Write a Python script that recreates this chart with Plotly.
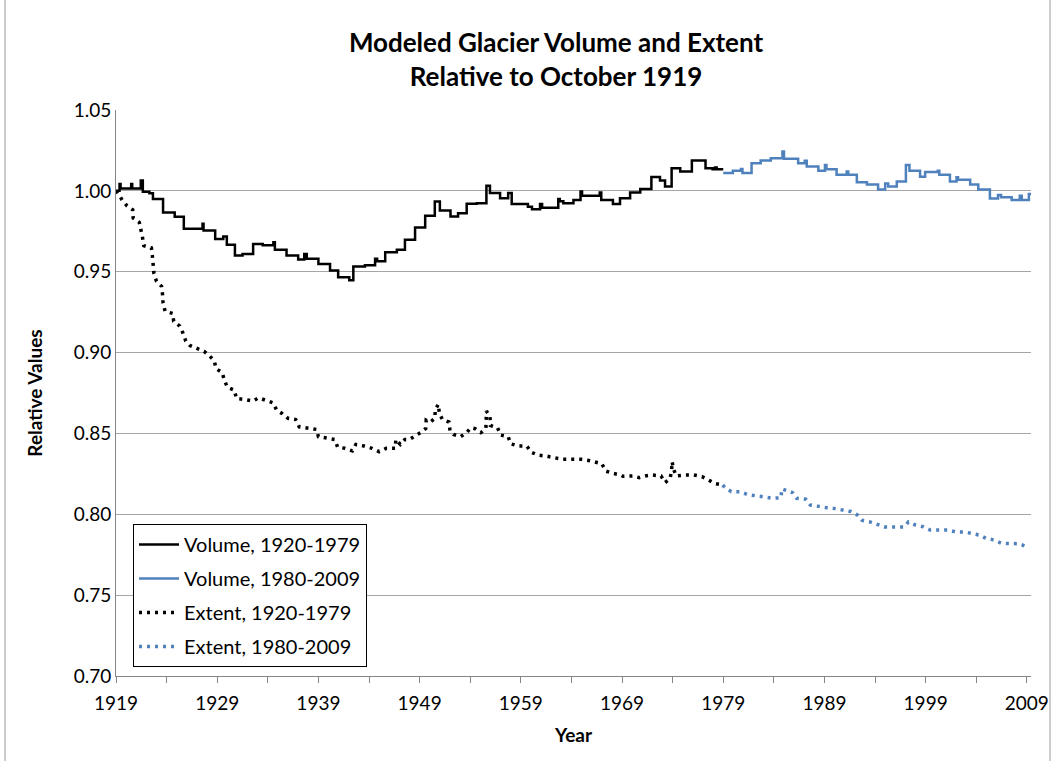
import plotly.graph_objects as go

# ---- Data ----
vol_early_year = [1919.0, 1919.35, 1919.45, 1920.5, 1920.6, 1921.45, 1921.65, 1922.3, 1922.65, 1923.65,
                  1924.8, 1925.7, 1927.55, 1927.65, 1928.8, 1929.6, 1929.95, 1930.75, 1931.5, 1932.55,
                  1933.5, 1934.55, 1934.7, 1935.85, 1937.0, 1937.6, 1937.85, 1939.0, 1940.15, 1940.95,
                  1942.05, 1942.45, 1943.6, 1944.6, 1944.8, 1945.6, 1946.75, 1947.55, 1948.55, 1949.55,
                  1950.5, 1951.0, 1952.05, 1952.8, 1953.65, 1954.65, 1955.6, 1955.95, 1956.95, 1957.75,
                  1958.1, 1959.7, 1960.1, 1960.9, 1961.1, 1962.7, 1962.85, 1963.2, 1964.2, 1964.9,
                  1965.05, 1966.8, 1966.95, 1968.1, 1968.8, 1969.8, 1970.8, 1971.9, 1972.75, 1973.25,
                  1973.9, 1974.75, 1975.9, 1977.25, 1977.95, 1978.2, 1978.35, 1979.0]
vol_early_value = [1.000, 1.0043, 1.0015, 1.0043, 1.0015, 1.0064, 0.9995, 0.9985, 0.9949, 0.9866,
                   0.984, 0.9765, 0.9796, 0.9755, 0.9702, 0.9718, 0.9667, 0.960, 0.961, 0.9671,
                   0.9663, 0.9682, 0.9636, 0.960, 0.9575, 0.961, 0.958, 0.9548, 0.9508, 0.9466,
                   0.9447, 0.9533, 0.954, 0.958, 0.9564, 0.962, 0.9636, 0.9698, 0.9773, 0.9846,
                   0.9934, 0.9878, 0.9841, 0.9862, 0.992, 0.9924, 1.0031, 0.9986, 0.9955, 0.9986,
                   0.9918, 0.9901, 0.9887, 0.9918, 0.9895, 0.9949, 0.9935, 0.9924, 0.9944, 0.9996,
                   0.9969, 0.999, 0.9944, 0.9918, 0.9955, 0.999, 1.0011, 1.0085, 1.0064, 1.0027,
                   1.014, 1.0119, 1.0187, 1.014, 1.0134, 1.0145, 1.0134, 1.0134]

vol_late_year = [1979.0, 1979.95, 1980.75, 1980.9, 1981.8, 1982.7, 1983.7, 1984.85, 1985.0, 1986.4,
                 1987.05, 1987.25, 1988.4, 1989.05, 1989.2, 1990.2, 1991.2, 1991.35, 1992.2, 1993.2,
                 1994.3, 1995.0, 1995.3, 1996.15, 1997.05, 1997.4, 1998.45, 1998.95, 2000.2, 2000.35,
                 2001.4, 2002.05, 2002.2, 2003.4, 2004.2, 2005.35, 2006.15, 2006.45, 2007.5, 2008.3,
                 2008.5, 2009.2, 2009.45]
vol_late_value = [1.011, 1.0125, 1.0135, 1.011, 1.0171, 1.0187, 1.0202, 1.0243, 1.0198, 1.0171,
                  1.0186, 1.015, 1.0125, 1.016, 1.0133, 1.0099, 1.012, 1.0099, 1.0053, 1.0039,
                  1.0008, 1.0045, 1.0027, 1.0058, 1.016, 1.0125, 1.0088, 1.0117, 1.0125, 1.0099,
                  1.0058, 1.0084, 1.0068, 1.0039, 1.0008, 0.9952, 0.9975, 0.996, 0.9944, 0.997,
                  0.9944, 0.9981, 0.9975]

ext_early_year = [1919.0, 1919.2, 1919.6, 1920.1, 1920.65, 1920.7, 1921.3, 1921.45, 1921.6, 1921.75,
                  1922.5, 1922.6, 1922.7, 1922.75, 1923.0, 1923.5, 1923.6, 1923.65, 1923.85, 1924.6,
                  1924.7, 1925.3, 1925.6, 1925.9, 1926.3, 1927.0, 1927.7, 1928.2, 1928.7, 1928.9,
                  1929.5, 1929.7, 1930.0, 1930.7, 1930.9, 1931.75, 1932.5, 1933.1, 1933.8, 1934.5,
                  1934.9, 1935.4, 1936.0, 1936.75, 1937.1, 1937.9, 1938.8, 1939.0, 1939.8, 1940.6,
                  1940.9, 1941.6, 1942.35, 1942.7, 1943.5, 1944.3, 1945.0, 1945.7, 1946.6, 1946.65,
                  1947.1, 1947.55, 1948.0, 1948.55, 1949.1, 1949.6, 1949.65, 1950.05, 1950.5, 1950.55,
                  1950.85, 1950.95, 1951.25, 1951.9, 1952.0, 1952.35, 1953.05, 1953.65, 1954.05, 1954.5,
                  1955.05, 1955.55, 1955.56, 1955.6, 1955.95, 1956.0, 1956.7, 1957.0, 1957.75, 1958.0,
                  1958.75, 1959.6, 1960.0, 1960.7, 1961.5, 1962.3, 1963.15, 1964.0, 1965.0, 1965.7,
                  1966.3, 1967.0, 1967.4, 1968.1, 1968.9, 1969.1, 1970.05, 1970.7, 1971.3, 1972.0,
                  1972.85, 1973.25, 1973.75, 1973.9, 1973.95, 1974.1, 1974.35, 1975.25, 1976.1, 1976.9,
                  1977.55, 1978.2, 1978.95]
ext_early_value = [1.000, 0.9985, 0.9944, 0.9907, 0.9883, 0.9832, 0.9805, 0.9770, 0.9719, 0.9661,
                   0.9647, 0.9595, 0.9540, 0.9488, 0.9441, 0.9410, 0.9359, 0.9308, 0.9256, 0.9242,
                   0.9194, 0.9164, 0.9123, 0.9071, 0.9044, 0.9025, 0.9008, 0.8982, 0.895, 0.890,
                   0.8875, 0.883, 0.8786, 0.8767, 0.8716, 0.871, 0.870, 0.872, 0.8704, 0.869,
                   0.8642, 0.8624, 0.8593, 0.8586, 0.8541, 0.8535, 0.8525, 0.848, 0.847, 0.8463,
                   0.8416, 0.8408, 0.8392, 0.8432, 0.8422, 0.8408, 0.8387, 0.8408, 0.8408, 0.8463,
                   0.8432, 0.8463, 0.8463, 0.8482, 0.8505, 0.853, 0.8582, 0.857, 0.8593, 0.8648,
                   0.868, 0.8624, 0.8586, 0.857, 0.8518, 0.8494, 0.848, 0.8505, 0.8535, 0.8529,
                   0.8505, 0.8529, 0.8582, 0.8638, 0.8607, 0.8549, 0.8535, 0.849, 0.848, 0.8436,
                   0.8422, 0.8422, 0.8385, 0.8366, 0.836, 0.835, 0.834, 0.834, 0.834, 0.8333,
                   0.8325, 0.8313, 0.8267, 0.8253, 0.8243, 0.8235, 0.8237, 0.8227, 0.8237, 0.8243,
                   0.8237, 0.8196, 0.822, 0.8274, 0.8325, 0.8278, 0.8237, 0.8243, 0.8243, 0.8233,
                   0.8212, 0.819, 0.8181]

ext_late_year = [1978.95, 1979.2, 1979.8, 1980.65, 1981.4, 1982.25, 1983.05, 1983.9, 1984.7, 1984.8,
                 1985.2, 1985.85, 1986.25, 1987.15, 1987.6, 1988.4, 1989.2, 1990.05, 1990.8, 1991.6,
                 1992.25, 1992.7, 1993.5, 1994.25, 1994.9, 1996.0, 1996.9, 1997.3, 1998.0, 1998.8,
                 1999.45, 2000.3, 2001.25, 2001.95, 2002.8, 2003.6, 2004.4, 2005.0, 2005.8, 2006.5,
                 2007.4, 2008.25, 2009.0]
ext_late_value = [0.8181, 0.8163, 0.814, 0.814, 0.8122, 0.8113, 0.811, 0.8099, 0.8102, 0.8158,
                  0.8148, 0.8134, 0.8099, 0.8093, 0.8057, 0.8047, 0.8041, 0.8035, 0.8027, 0.8017,
                  0.7996, 0.7963, 0.7953, 0.7938, 0.7922, 0.7922, 0.7922, 0.7953, 0.7934, 0.7922,
                  0.7903, 0.7903, 0.7903, 0.7891, 0.7891, 0.7881, 0.787, 0.785, 0.7841, 0.782,
                  0.782, 0.7818, 0.7798]

x_tick_years = list(range(1919, 2010, 5))
x_label_years = list(range(1919, 2010, 10))
y_ticks = [0.70, 0.75, 0.80, 0.85, 0.90, 0.95, 1.00, 1.05]

BLACK = "#000000"
BLUE = "#4f81bd"
FONT = "Lato"
DOT = "3px,5px"

W, H = 1062, 761
L, R, T, B = 116, 31, 110, 85
PW, PH = W - L - R, H - T - B


def px_x(px):
    return (px - L) / PW


def px_y(py):
    return (H - B - py) / PH


fig = go.Figure()
fig.add_trace(go.Scatter(x=vol_early_year, y=vol_early_value, mode="lines", line_shape="hv",
                         name="Volume, 1920-1979", legendgroup="a",
                         line=dict(color=BLACK, width=2.5)))
fig.add_trace(go.Scatter(x=vol_late_year, y=vol_late_value, mode="lines", line_shape="hv",
                         name="Volume, 1980-2009", legendgroup="b",
                         line=dict(color=BLUE, width=2.5)))
fig.add_trace(go.Scatter(x=ext_early_year, y=ext_early_value, mode="lines",
                         name="Extent, 1920-1979", legendgroup="c",
                         line=dict(color=BLACK, width=3.5, dash=DOT)))
fig.add_trace(go.Scatter(x=ext_late_year, y=ext_late_value, mode="lines",
                         name="Extent, 1980-2009", legendgroup="d",
                         line=dict(color=BLUE, width=3.5, dash=DOT)))

fig.update_layout(
    width=W, height=H,
    margin=dict(l=L, r=R, t=T, b=B),
    paper_bgcolor="white", plot_bgcolor="white",
    font=dict(family=FONT, size=19, color="#000000"),
    title=dict(text="<b>Modeled Glacier Volume and Extent<br>Relative to October 1919</b>",
               x=px_x(556), xref="paper", xanchor="center",
               y=1 - 52 / H, yanchor="middle",
               font=dict(family=FONT, size=26, color="#000000")),
    showlegend=True,
    legend=dict(x=px_x(133), y=px_y(524), xanchor="left", yanchor="top",
                bgcolor="white", bordercolor="#000000", borderwidth=1,
                font=dict(family=FONT, size=20), tracegroupgap=5,
                itemwidth=40),
    xaxis=dict(range=[1919, 2009.41], tickmode="array", tickvals=x_tick_years,
               ticktext=[str(y) if y in x_label_years else "" for y in x_tick_years],
               ticks="outside", ticklen=6, tickcolor="#868686", tickwidth=1,
               ticklabelstandoff=4,
               showline=True, linecolor="#868686", linewidth=1, showgrid=False,
               zeroline=False, tickfont=dict(family=FONT, size=19),
               title=dict(text="<b>Year</b>", font=dict(family=FONT, size=19), standoff=15)),
    yaxis=dict(range=[0.70, 1.05], tickmode="array", tickvals=y_ticks,
               ticktext=[f"{v:.2f}" for v in y_ticks],
               showline=True, linecolor="#868686", linewidth=1,
               showgrid=True, gridcolor="#a6a6a6", gridwidth=1, zeroline=False,
               ticks="", tickfont=dict(family=FONT, size=19),
               title=dict(text="<b>Relative Values</b>", font=dict(family=FONT, size=19), standoff=26)),
    shapes=[dict(type="rect", xref="paper", yref="paper",
                 x0=px_x(5), x1=px_x(1050), y0=px_y(770), y1=px_y(-10),
                 line=dict(color="#9a9a9a", width=1), fillcolor="rgba(0,0,0,0)", layer="below")],
)

fig.write_html("out.html", config={"displayModeBar": False},
               post_script="document.body.style.margin='0px';")
